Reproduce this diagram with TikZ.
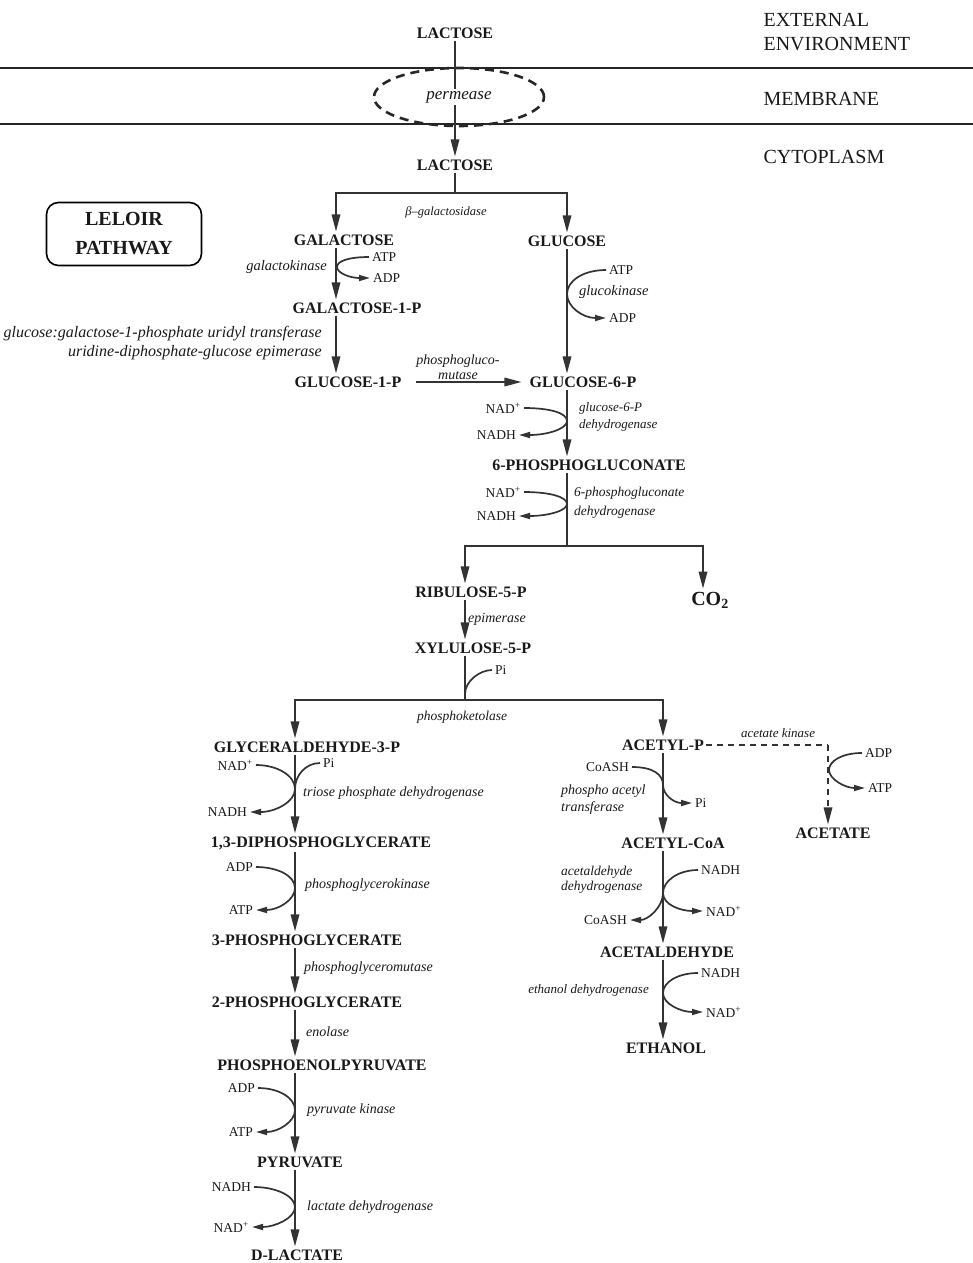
\documentclass[tikz,border=0pt]{standalone}
\usepackage{fontspec}
\setmainfont{Liberation Serif}
\usetikzlibrary{arrows.meta,shapes.geometric}

\begin{document}
\begin{tikzpicture}[x=1pt,y=-1pt,
    met/.style={font=\fontsize{16}{18}\selectfont\bfseries, inner sep=2pt},
    enz/.style={font=\fontsize{14}{16}\selectfont\itshape, inner sep=1pt},
    cof/.style={font=\fontsize{13.5}{15}\selectfont, inner sep=3pt},
    zone/.style={font=\fontsize{20}{24}\selectfont, align=left, anchor=west},
    rxn/.style={line width=1.7pt, draw=black!80},
    flow/.style={rxn, -{Triangle[length=17pt,width=8.5pt]}, shorten >=1pt},
    cofarr/.style={rxn, -{Triangle[length=11pt,width=6pt]}},
    every node/.style={text=black!90}]

    \useasboundingbox (0,0) rectangle (973,1263);

    \node[zone] (extLbl) at (760,32) {EXTERNAL\\ENVIRONMENT};
    \node[zone] (memLbl) at (760,99) {MEMBRANE};
    \node[zone] (cytLbl) at (760,157) {CYTOPLASM};
    \foreach \yy in {68,124}
        \draw[line width=2.6pt, black!85] (0,\yy) -- (973,\yy);

    \node[met] (lacOut) at (455,33) {LACTOSE};
    \node[draw=black!85, ellipse, line width=2.6pt, dash pattern=on 9pt off 6pt,
        minimum width=170pt, minimum height=58pt] (perm) at (459,97) {};
    \node[met] (lacIn) at (455,165) {LACTOSE};
    \draw[flow] (lacOut) -- (lacIn);
    \node[enz, fill=white, inner sep=2pt, font=\fontsize{17}{19}\selectfont\itshape]
        (permLbl) at (perm) {permease};

    \node[draw, rounded corners=12pt, line width=1.6pt, minimum width=155pt,
        minimum height=63pt, align=center, font=\fontsize{20}{29}\selectfont\bfseries]
        (leloir) at (124,234) {LELOIR\\PATHWAY};

    \node[met] (gal) at (344,240) {GALACTOSE};
    \node[met] (glc) at (567,241) {GLUCOSE};
    \coordinate (bGal) at (455,193);
    \draw[rxn] (lacIn) -- (bGal);
    \draw[flow] (bGal) -| ([xshift=-8pt]gal.north);
    \draw[flow] (bGal) -| (glc);
    \node[enz, font=\fontsize{12.5}{14}\selectfont\itshape] (bgalLbl) at (446,212) {β--galactosidase};

    \node[met] (gal1p) at (357,308) {GALACTOSE-1-P};
    \node[met] (glc1p) at (348,382) {GLUCOSE-1-P};
    \node[met] (glc6p) at (583,382) {GLUCOSE-6-P};
    \draw[flow] ([xshift=-8pt]gal.south) -- ([xshift=-21pt]gal1p.north);
    \node[cof, anchor=west] (atpA) at (369,257) {ATP};
    \node[cof, anchor=west] (adpA) at (370,278) {ADP};
    \coordinate (gkT) at (337,267);
    \draw[cofarr] (atpA.west) .. controls +(-20,0) and +(0,-6) .. (gkT)
        .. controls +(0,6) and +(-20,0) .. (adpA.west);
    \node[enz, anchor=east, font=\fontsize{14.5}{16}\selectfont\itshape] (gkLbl) at (328,267) {galactokinase};

    \draw[flow] ([xshift=-21pt]gal1p.south) -- ([xshift=-12pt]glc1p.north);
    \node[enz, anchor=east, align=right, font=\fontsize{16}{19}\selectfont\itshape]
        (uridLbl) at (323,343) {glucose:galactose-1-phosphate uridyl transferase\\
        uridine-diphosphate-glucose epimerase};

    \draw[flow, shorten <=12pt, shorten >=6pt] (glc1p) -- (glc6p);
    \node[enz, align=center, font=\fontsize{14}{15}\selectfont\itshape]
        (pgmLbl) at (458,367) {phosphogluco-\\mutase};

    \draw[flow] (glc) -- ([xshift=-16pt]glc6p.north);
    \node[cof, anchor=west] (atpB) at (606,270) {ATP};
    \node[cof, anchor=west] (adpB) at (606,318) {ADP};
    \coordinate (glkT) at (567,294);
    \draw[cofarr] (atpB.west) .. controls +(-23,0) and +(0,-13) .. (glkT)
        .. controls +(0,13) and +(-23,0) .. (adpB.west);
    \node[enz, anchor=west, font=\fontsize{14.5}{16}\selectfont\itshape] (glkLbl) at (578,292) {glucokinase};

    \node[met] (pglcn) at (589,465) {6-PHOSPHOGLUCONATE};
    \draw[flow] ([xshift=-16pt]glc6p.south) -- ([xshift=-22pt]pglcn.north);
    \node[cof, anchor=east] (nadA) at (524,408) {NAD\textsuperscript{+}};
    \node[cof, anchor=east] (nadhA) at (519,435) {NADH};
    \coordinate (gpdT) at (567,421);
    \draw[cofarr] (nadA.east) .. controls +(26,0) and +(0,-8) .. (gpdT)
        .. controls +(0,8) and +(28,0) .. (nadhA.east);
    \node[enz, anchor=west, align=left, font=\fontsize{13}{17}\selectfont\itshape]
        (gpdLbl) at (578,417) {glucose-6-P\\dehydrogenase};

    \coordinate (bPP) at (567,546);
    \draw[rxn] ([xshift=-22pt]pglcn.south) -- (bPP);
    \node[cof, anchor=east] (nadB) at (524,492) {NAD\textsuperscript{+}};
    \node[cof, anchor=east] (nadhB) at (519,516) {NADH};
    \coordinate (pgdT) at (567,504);
    \draw[cofarr] (nadB.east) .. controls +(26,0) and +(0,-7) .. (pgdT)
        .. controls +(0,7) and +(28,0) .. (nadhB.east);
    \node[enz, anchor=west, align=left, font=\fontsize{13.5}{19}\selectfont\itshape]
        (pgdLbl) at (573,503) {6-phosphogluconate\\dehydrogenase};

    \node[met] (ru5p) at (471,592) {RIBULOSE-5-P};
    \node[met, font=\fontsize{20}{22}\selectfont\bfseries] (co2) at (710,600) {CO\textsubscript{2}};
    \draw[flow] (bPP) -| ([xshift=-6pt]ru5p.north);
    \draw[flow] (bPP) -| ([xshift=-7pt]co2.north);

    \node[met] (xu5p) at (473,648) {XYLULOSE-5-P};
    \draw[flow] ([xshift=-6pt]ru5p.south) -- ([xshift=-8pt]xu5p.north);
    \node[enz, anchor=west] (epiLbl) at (467,619) {epimerase};

    \coordinate (bPK) at (465,700);
    \coordinate (xuT) at (465,694);
    \draw[rxn] ([xshift=-8pt]xu5p.south) -- (bPK);
    \node[cof, anchor=west] (piX) at (492,670) {Pi};
    \draw[rxn] (xuT) .. controls +(0,-13) and +(-12,0) .. (piX.west);
    \node[met] (gap) at (307,747) {GLYCERALDEHYDE-3-P};
    \node[met] (acp) at (663,745) {ACETYL-P};
    \draw[flow] (bPK) -| ([xshift=-12pt]gap.north);
    \draw[flow] (bPK) -| (acp);
    \node[enz, font=\fontsize{13.5}{15}\selectfont\itshape] (pkLbl) at (462,717) {phosphoketolase};

    \node[met] (bpg) at (321,843) {1,3-DIPHOSPHOGLYCERATE};
    \draw[flow] ([xshift=-12pt]gap.south) -- ([xshift=-26pt]bpg.north);
    \node[cof, anchor=east] (nadC) at (256,765) {NAD\textsuperscript{+}};
    \node[cof, anchor=east] (nadhC) at (250,812) {NADH};
    \node[cof, anchor=west] (piC) at (320,763) {Pi};
    \coordinate (gapT) at (295,789);
    \draw[cofarr] (nadC.east) .. controls +(22,0) and +(0,-13) .. (gapT)
        .. controls +(0,13) and +(25,0) .. (nadhC.east);
    \draw[rxn] (gapT) .. controls +(0,-14) and +(-14,0) .. (piC.west);
    \node[enz, anchor=west] (gapdhLbl) at (302,793) {triose phosphate dehydrogenase};

    \node[met] (pg3) at (307,940) {3-PHOSPHOGLYCERATE};
    \draw[flow] ([xshift=-26pt]bpg.south) -- ([xshift=-12pt]pg3.north);
    \node[cof, anchor=east] (adpD) at (256,867) {ADP};
    \node[cof, anchor=east] (atpD) at (256,910) {ATP};
    \coordinate (pgkT) at (295,888);
    \draw[cofarr] (adpD.east) .. controls +(22,0) and +(0,-12) .. (pgkT)
        .. controls +(0,12) and +(22,0) .. (atpD.east);
    \node[enz, anchor=west] (pgkLbl) at (304,885) {phosphoglycerokinase};

    \node[met] (pg2) at (307,1002) {2-PHOSPHOGLYCERATE};
    \draw[flow] ([xshift=-12pt]pg3.south) -- ([xshift=-12pt]pg2.north);
    \node[enz, anchor=west] (pgmuLbl) at (303,968) {phosphoglyceromutase};

    \node[met] (pep) at (322,1065) {PHOSPHOENOLPYRUVATE};
    \draw[flow] ([xshift=-12pt]pg2.south) -- ([xshift=-27pt]pep.north);
    \node[enz, anchor=west] (enoLbl) at (305,1032) {enolase};

    \node[met] (pyr) at (300,1162) {PYRUVATE};
    \draw[flow] ([xshift=-27pt]pep.south) -- ([xshift=-5pt]pyr.north);
    \node[cof, anchor=east] (adpE) at (258,1088) {ADP};
    \node[cof, anchor=east] (atpE) at (256,1132) {ATP};
    \coordinate (pykT) at (295,1110);
    \draw[cofarr] (adpE.east) .. controls +(21,0) and +(0,-12) .. (pykT)
        .. controls +(0,12) and +(22,0) .. (atpE.east);
    \node[enz, anchor=west] (pykLbl) at (306,1110) {pyruvate kinase};

    \node[met] (lac) at (297,1255) {D-LACTATE};
    \draw[flow] ([xshift=-5pt]pyr.south) -- ([xshift=-2pt]lac.north);
    \node[cof, anchor=east] (nadhF) at (254,1187) {NADH};
    \node[cof, anchor=east] (nadF) at (252,1227) {NAD\textsuperscript{+}};
    \coordinate (ldhT) at (295,1207);
    \draw[cofarr] (nadhF.east) .. controls +(22,0) and +(0,-11) .. (ldhT)
        .. controls +(0,11) and +(23,0) .. (nadF.east);
    \node[enz, anchor=west] (ldhLbl) at (306,1207) {lactate dehydrogenase};

    \node[met] (acetate) at (833,833) {ACETATE};
    \coordinate (akC) at (828,745);
    \draw[rxn, dash pattern=on 6pt off 5pt] (acp.east) -- (akC);
    \draw[flow, dash pattern=on 6pt off 5pt] (akC) -- ([xshift=-5pt]acetate.north);
    \node[enz, font=\fontsize{13}{15}\selectfont\itshape] (akLbl) at (778,733) {acetate kinase};
    \node[cof, anchor=west] (adpG) at (862,753) {ADP};
    \node[cof, anchor=west] (atpG) at (865,788) {ATP};
    \coordinate (akT) at (829,770);
    \draw[cofarr] (adpG.west) .. controls +(-20,0) and +(0,-9) .. (akT)
        .. controls +(0,9) and +(-20,0) .. (atpG.west);

    \node[met] (accoa) at (673,843) {ACETYL-CoA};
    \draw[flow] (acp) -- ([xshift=-10pt]accoa.north);
    \node[cof, anchor=east] (coaA) at (632,767) {CoASH};
    \node[cof, anchor=west] (piG) at (692,803) {Pi};
    \coordinate (ptaT) at (663,785);
    \draw[cofarr] (coaA.east) .. controls +(22,0) and +(0,-10) .. (ptaT)
        .. controls +(0,10) and +(-18,0) .. (piG.west);
    \node[enz, anchor=west, align=left, font=\fontsize{14}{17}\selectfont\itshape]
        (ptaLbl) at (560,800) {phospho acetyl\\transferase};

    \node[met] (acald) at (667,952) {ACETALDEHYDE};
    \draw[flow] ([xshift=-10pt]accoa.south) -- ([xshift=-4pt]acald.north);
    \node[cof, anchor=west] (nadhG) at (698,870) {NADH};
    \node[cof, anchor=west] (nadG) at (703,911) {NAD\textsuperscript{+}};
    \node[cof, anchor=east] (coaB) at (630,920) {CoASH};
    \coordinate (acdT) at (663,893);
    \draw[cofarr] (nadhG.west) .. controls +(-20,0) and +(0,-12) .. (acdT)
        .. controls +(0,12) and +(-22,0) .. (nadG.west);
    \draw[cofarr] (acdT) .. controls +(0,14) and +(18,0) .. (coaB.east);
    \node[enz, anchor=west, align=left, font=\fontsize{13.5}{15}\selectfont\itshape]
        (acdLbl) at (560,880) {acetaldehyde\\dehydrogenase};

    \node[met] (etoh) at (666,1048) {ETHANOL};
    \draw[flow] ([xshift=-4pt]acald.south) -- ([xshift=-3pt]etoh.north);
    \node[cof, anchor=west] (nadhH) at (698,973) {NADH};
    \node[cof, anchor=west] (nadH) at (703,1012) {NAD\textsuperscript{+}};
    \coordinate (adhT) at (663,993);
    \draw[cofarr] (nadhH.west) .. controls +(-20,0) and +(0,-11) .. (adhT)
        .. controls +(0,11) and +(-22,0) .. (nadH.west);
    \node[enz, anchor=east, font=\fontsize{13}{15}\selectfont\itshape] (adhLbl) at (650,990) {ethanol dehydrogenase};
\end{tikzpicture}
\end{document}
